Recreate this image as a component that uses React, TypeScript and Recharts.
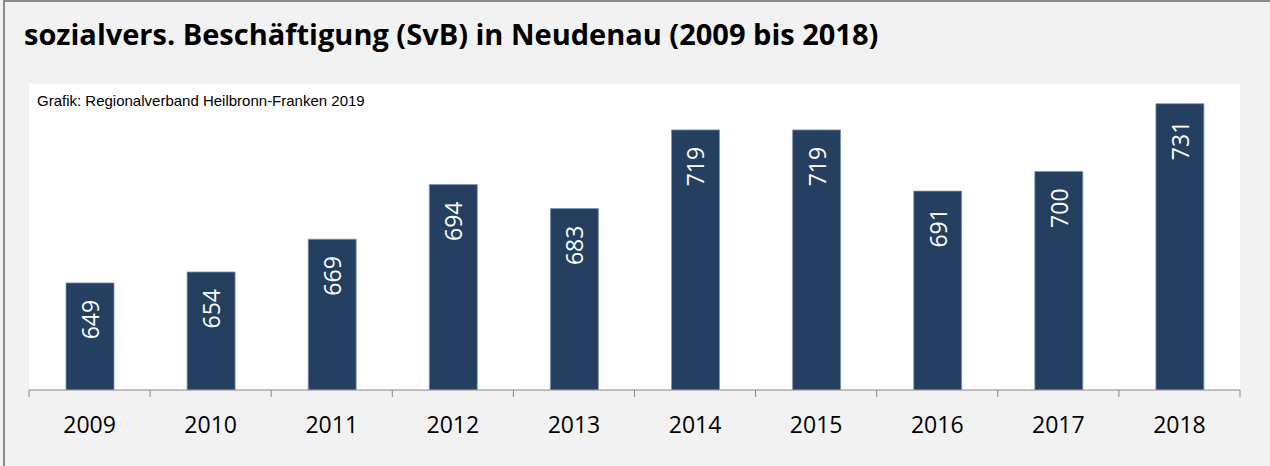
import {Bar, BarChart, CartesianGrid, LabelList, XAxis, YAxis} from "recharts";

const years = ["2009", "2010", "2011", "2012", "2013", "2014", "2015", "2016", "2017", "2018"];
const employees = [649, 654, 669, 694, 683, 719, 719, 691, 700, 731];

const data = years.map((year, i) => ({year, value: employees[i]}));

const W = 1270;
const H = 466;
const MARGIN = {top: 84, right: 30, left: 29, bottom: 36};
const AXIS_H = 40;
const AXIS_Y = H - MARGIN.bottom - AXIS_H;
const BAND = (W - MARGIN.left - MARGIN.right) / years.length;
const GRAY = "#868686";

function YearTick(props: any) {
    const {x, payload, index} = props;
    const left = x - BAND / 2;
    return (
        <g>
            <line x1={left} y1={AXIS_Y} x2={left} y2={AXIS_Y + 7} stroke={GRAY} />
            {index === years.length - 1 && (
                <line x1={x + BAND / 2} y1={AXIS_Y} x2={x + BAND / 2} y2={AXIS_Y + 7} stroke={GRAY} />
            )}
            <text x={x} y={AXIS_Y + 43} textAnchor="middle" fontSize={23} fill="#000"
                  fontFamily="'Open Sans', sans-serif">
                {payload.value}
            </text>
        </g>
    );
}

function ValueLabel(props: any) {
    const {x, y, width, value} = props;
    const cx = x + width / 2;
    const top = y + 17;
    return (
        <text x={cx} y={top} transform={`rotate(-90 ${cx} ${top})`} textAnchor="end"
              dominantBaseline="central" fontSize={23} fill="#fff"
              fontFamily="'Open Sans', sans-serif">
            {value}
        </text>
    );
}

export default function App() {
    return (
        <div style={{position: "absolute", left: 0, top: 0, width: W, height: H, background: "#f2f2f2", overflow: "hidden"}}>
            <div style={{position: "absolute", left: 3, top: 0, width: W, height: H + 4,
                borderTop: "2px solid #8c8c8c", borderLeft: "2px solid #8c8c8c", boxSizing: "border-box"}} />
            <div style={{position: "absolute", left: 24, top: 19, fontFamily: "'Open Sans', sans-serif",
                fontWeight: 700, fontSize: 29, lineHeight: 1, whiteSpace: "nowrap", color: "#000"}}>
                sozialvers. Beschäftigung (SvB) in Neudenau (2009 bis 2018)
            </div>
            <div style={{position: "absolute", left: 0, top: 0}}>
                <BarChart width={W} height={H} data={data} margin={MARGIN} barSize={48}>
                    <CartesianGrid fill="#fff" horizontal={false} vertical={false} />
                    <YAxis hide domain={[600, 740]} allowDataOverflow />
                    <XAxis dataKey="year" height={AXIS_H} interval={0} tickLine={false}
                           axisLine={{stroke: GRAY}} tick={<YearTick />} />
                    <Bar dataKey="value" fill="#243f60" stroke="#8196b0" strokeWidth={0.8}
                         isAnimationActive={false}>
                        <LabelList dataKey="value" content={<ValueLabel />} />
                    </Bar>
                </BarChart>
            </div>
            <div style={{position: "absolute", left: 37, top: 92, fontFamily: "'Liberation Sans', Arial, sans-serif",
                fontSize: 15, lineHeight: "17px", color: "#000", whiteSpace: "nowrap"}}>
                Grafik: Regionalverband Heilbronn-Franken 2019
            </div>
        </div>
    );
}
